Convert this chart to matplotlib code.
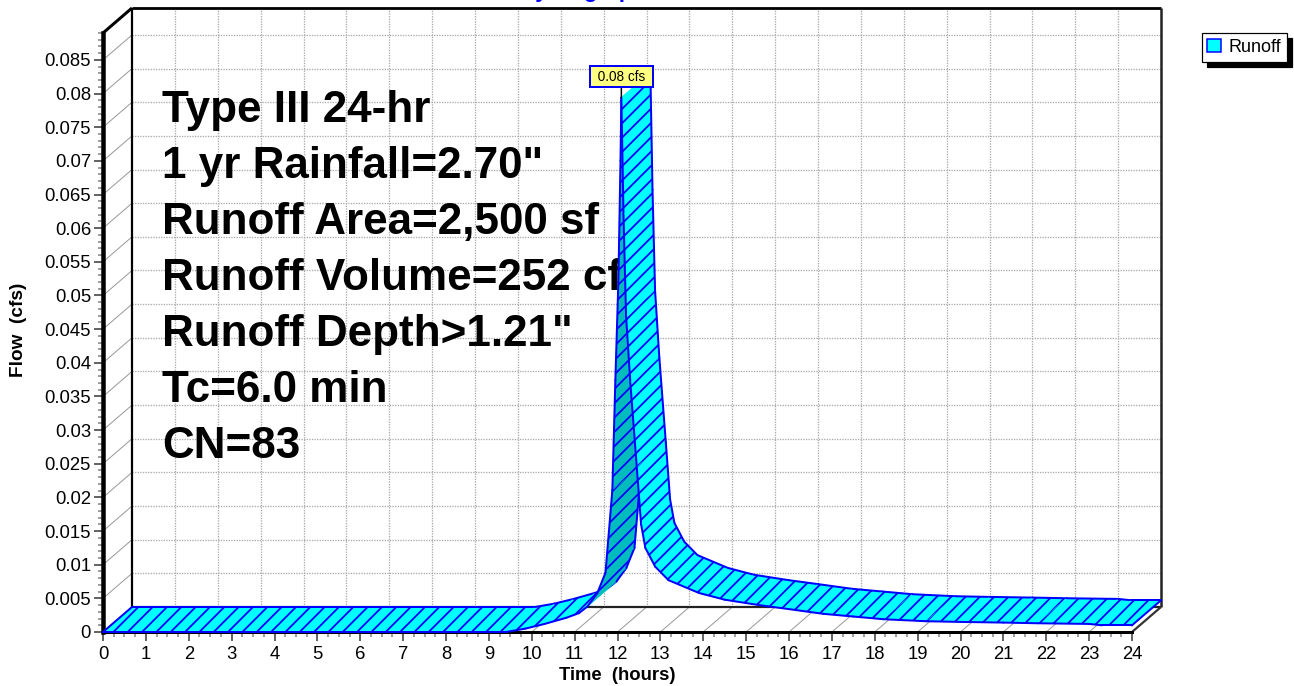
import matplotlib
matplotlib.use('Agg')
import matplotlib.pyplot as plt
from matplotlib.patches import Polygon, Patch
from matplotlib.ticker import MultipleLocator, FixedLocator
import numpy as np

# ---------------- data ----------------
time_hr = [0.0, 9.4, 9.85, 10.3, 10.8, 11.1, 11.3, 11.53, 11.72, 11.88, 11.95, 12.02,
           12.07, 12.09, 12.14, 12.2, 12.3, 12.45, 12.55, 12.65, 12.88, 13.19, 13.9,
           14.5, 15.3, 16.0, 16.8, 17.5, 18.2, 19.2, 20.0, 21.0, 21.8, 23.0, 23.3, 24.0]
flow_cfs = [0.0, 0.0, 0.0005, 0.0012, 0.0021, 0.0028, 0.0038, 0.0058, 0.0088, 0.0211,
            0.0374, 0.052, 0.070, 0.0794, 0.062, 0.047, 0.037, 0.0245, 0.016, 0.0125,
            0.0097, 0.0077, 0.0058, 0.0048, 0.0040, 0.0034, 0.0027, 0.0023, 0.0019,
            0.0016, 0.0015, 0.0014, 0.0013, 0.0012, 0.0010, 0.0010]
peak_label = "0.08 cfs"
series_name = "Runoff"
x_ticks = list(range(0, 25))
x_tick_labels = [str(v) for v in x_ticks]
y_ticks = [0, 0.005, 0.01, 0.015, 0.02, 0.025, 0.03, 0.035, 0.04, 0.045, 0.05,
           0.055, 0.06, 0.065, 0.07, 0.075, 0.08, 0.085]
y_tick_labels = ['0', '0.005', '0.01', '0.015', '0.02', '0.025', '0.03', '0.035',
                 '0.04', '0.045', '0.05', '0.055', '0.06', '0.065', '0.07', '0.075',
                 '0.08', '0.085']
info_lines = ['Type III 24-hr', '1 yr Rainfall=2.70"', 'Runoff Area=2,500 sf',
              'Runoff Volume=252 cf', 'Runoff Depth>1.21"', 'Tc=6.0 min', 'CN=83']
title = "Hydrograph"
x_label = "Time  (hours)"
y_label = "Flow  (cfs)"

# ---------------- style ----------------
DPI = 86
P = 72.0 / DPI          # pixels -> points
W, H = 1294, 686
FONT = 'Liberation Sans'
plt.rcParams['font.family'] = [FONT, 'DejaVu Sans']
plt.rcParams['hatch.linewidth'] = 1.8 * P
BLUE = '#0000ff'
CYAN = '#00ffff'
DARKCYAN = '#00bcbc'
GRID = '#a8a8a8'
XMAX = 24
YTOP = 0.089
DEPTH_PX = (29, 25)

fig = plt.figure(figsize=(W / DPI, H / DPI), dpi=DPI)
fig.patch.set_facecolor('white')
ax = fig.add_axes([103 / W, (H - 632) / H, (1132 - 103) / W, (632 - 33) / H])
ax.set_xlim(0, XMAX)
ax.set_ylim(0, YTOP)
ax.patch.set_visible(False)

# depth offset in data units
fig.canvas.draw()
inv = ax.transData.inverted()
o = ax.transData.transform((0, 0))
dd = inv.transform((o[0] + DEPTH_PX[0], o[1] + DEPTH_PX[1]))
DX, DY = dd[0], dd[1]

# spines / ticks
for s in ['top', 'right']:
    ax.spines[s].set_visible(False)
ax.spines['left'].set_linewidth(4.5 * P)
ax.spines['bottom'].set_linewidth(3 * P)
ax.spines['left'].set_zorder(2.5)
ax.spines['bottom'].set_zorder(2.5)
ax.xaxis.set_major_locator(FixedLocator(x_ticks))
ax.set_xticklabels(x_tick_labels)
ax.xaxis.set_minor_locator(MultipleLocator(0.25))
ax.yaxis.set_major_locator(FixedLocator(y_ticks))
ax.set_yticklabels(y_tick_labels)
ax.yaxis.set_minor_locator(MultipleLocator(0.001))
ax.tick_params(which='major', length=9 * P, width=1.5 * P, color='#333333',
               labelsize=18.5 * P, pad=3 * P)
ax.tick_params(which='minor', length=5 * P, width=1.5 * P, color='#808080')
ax.tick_params(axis='x', which='major', pad=5 * P)

gk = dict(clip_on=False, solid_capstyle='butt')
# back wall grid (dotted)
for qv in y_ticks[1:]:
    ax.plot([DX, XMAX + DX], [qv + DY, qv + DY], color=GRID, lw=1.3 * P,
            ls=(0, (1, 1)), zorder=1, **gk)
for h in x_ticks[1:-1]:
    ax.plot([h + DX, h + DX], [DY, YTOP + DY], color=GRID, lw=1.3 * P,
            ls=(0, (1, 1)), zorder=1, **gk)
# left wall diagonals
for qv in y_ticks[1:]:
    ax.plot([0, DX], [qv, qv + DY], color='#9a9a9a', lw=1.0 * P, zorder=1, **gk)
# floor diagonals
for h in x_ticks[1:-1]:
    ax.plot([h, h + DX], [0, DY], color='#9a9a9a', lw=1.0 * P, zorder=1, **gk)
# frame edges
ax.plot([0, DX], [YTOP, YTOP + DY], color='black', lw=3 * P, zorder=2, **gk)
ax.plot([DX, XMAX + DX], [YTOP + DY, YTOP + DY], color='black', lw=2.8 * P, zorder=2, **gk)
ax.plot([DX, DX], [DY, YTOP + DY], color='black', lw=2.2 * P, zorder=2, **gk)
ax.plot([XMAX + DX, XMAX + DX], [DY, YTOP + DY], color='#222222', lw=2.5 * P, zorder=2, **gk)
ax.plot([DX, XMAX + DX], [DY, DY], color='#222222', lw=2.2 * P, zorder=2, **gk)
ax.plot([XMAX, XMAX + DX], [0, DY], color='#333333', lw=2.2 * P, zorder=2, **gk)

# info text
for k, line in enumerate(info_lines):
    ax.text((162 - 103) / 1029, (632 - 122 - 56 * k) / 599, line, transform=ax.transAxes,
            fontsize=44 * P, fontweight='bold', color='black', va='baseline',
            ha='left', zorder=2.2)

# ribbon
t = np.asarray(time_hr)
q = np.asarray(flow_cfs)
elw = 2.0 * P
for i in range(len(t) - 1):
    f0 = (t[i], q[i]); f1 = (t[i + 1], q[i + 1])
    b0 = (t[i] + DX, q[i] + DY); b1 = (t[i + 1] + DX, q[i + 1] + DY)
    dt = t[i + 1] - t[i]; dq = q[i + 1] - q[i]
    underside = (dt * DY - dq * DX) < 0
    fc = DARKCYAN if underside else CYAN
    z = 3 + i * 0.01
    ax.add_patch(Polygon([f0, f1, b1, b0], closed=True, facecolor=fc, edgecolor=fc,
                         linewidth=0.6 * P, zorder=z, clip_on=False))
    ax.add_patch(Polygon([f0, f1, b1, b0], closed=True, facecolor='none', edgecolor=BLUE,
                         linewidth=0, hatch='//', zorder=z + 0.002, clip_on=False))
    ax.plot([f0[0], f1[0]], [f0[1], f1[1]], color=BLUE, lw=elw, zorder=z + 0.004,
            clip_on=False, solid_capstyle='round')
    ax.plot([b0[0], b1[0]], [b0[1], b1[1]], color=BLUE, lw=elw, zorder=z + 0.004,
            clip_on=False, solid_capstyle='round')
    if i == 0:
        ax.plot([f0[0], b0[0]], [f0[1], b0[1]], color=BLUE, lw=elw, zorder=z + 0.004,
                clip_on=False)
    if i == len(t) - 2:
        ax.plot([f1[0], b1[0]], [f1[1], b1[1]], color=BLUE, lw=elw, zorder=z + 0.004,
                clip_on=False)

# peak label
ip = int(np.argmax(q))
ax.annotate(' ' + peak_label + ' ', xy=(t[ip], q[ip]), xytext=(0, 21 * P),
            textcoords='offset points', ha='center', va='center',
            fontsize=13.5 * P, color='black', zorder=20,
            bbox=dict(boxstyle='square,pad=0.28', fc='#ffff80', ec=BLUE, lw=2 * P),
            arrowprops=dict(arrowstyle='-', color='black', lw=1.5 * P,
                            shrinkA=0, shrinkB=0))

# labels
fig.text(617 / W, 1 - 675 / H, x_label, ha='center', va='center',
         fontsize=18.5 * P, fontweight='bold')
fig.text(19 / W, 1 - 330 / H, y_label, ha='center', va='center', rotation=90,
         fontsize=19 * P, fontweight='bold')
fig.text(583 / W, 1 + 3 / H, title, ha='center', va='baseline', color=BLUE,
         fontsize=22.5 * P, fontweight='bold')

# legend
handle = Patch(facecolor=CYAN, edgecolor=BLUE, linewidth=1.5 * P)
leg = fig.legend([handle], [series_name], loc='upper right',
                 bbox_to_anchor=(1287 / W, 1 - 33 / H), borderaxespad=0,
                 fontsize=18 * P, frameon=True, fancybox=False, framealpha=1,
                 edgecolor='black', handlelength=0.78, handleheight=0.72,
                 handletextpad=0.4, borderpad=0.32,
                 shadow={'color': 'black', 'alpha': 1.0, 'ox': 5 * P, 'oy': -5 * P})
leg.get_frame().set_linewidth(1.2 * P)

fig.savefig('out.png', dpi=DPI, facecolor='white')
